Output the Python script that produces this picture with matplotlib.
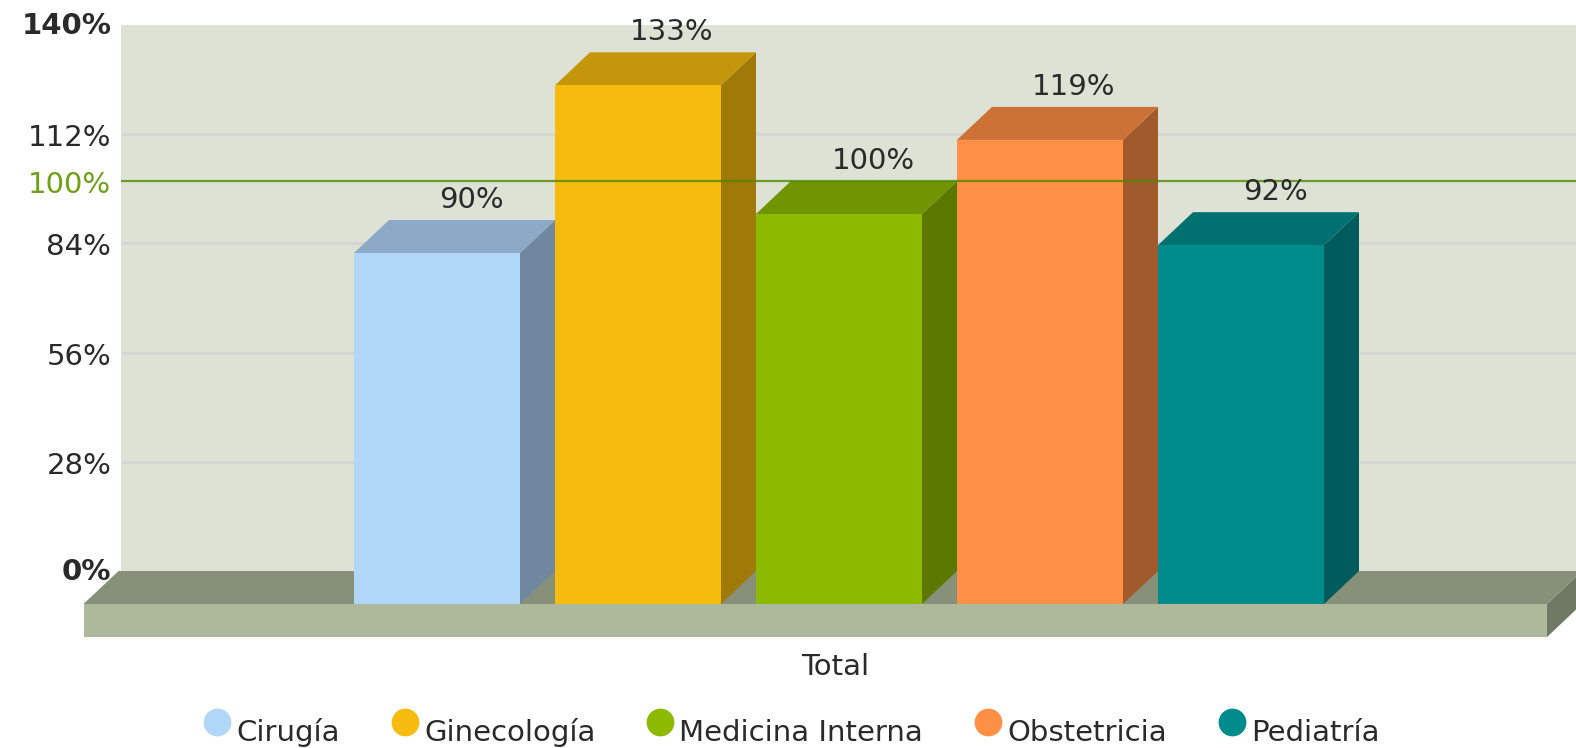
import matplotlib
matplotlib.use("Agg")
import matplotlib.pyplot as plt
from matplotlib.lines import Line2D
from matplotlib.patches import Polygon
from matplotlib.transforms import ScaledTranslation

categories = ["Cirugía", "Ginecología", "Medicina Interna", "Obstetricia", "Pediatría"]
values = [90, 133, 100, 119, 92]
labels = ["90%", "133%", "100%", "119%", "92%"]
front_colors = ["#b0d7f7", "#f5bc0f", "#8cba00", "#ff8f45", "#008c8c"]
top_colors = ["#8caac6", "#c4960c", "#709500", "#cc7236", "#007070"]
side_colors = ["#6f88a0", "#9f7a08", "#5b7800", "#a05a2b", "#005c5c"]
group_label = "Total"
grid_ticks = [28, 56, 84, 112]
y_ticks = [0, 28, 56, 84, 100, 112, 140]
y_tick_labels = ["0%", "28%", "56%", "84%", "100%", "112%", "140%"]
target = 100

W, H = 1576, 748
WALL_L, WALL_T, WALL_B = 121, 25, 571
FIRST_C = 437.0
fig = plt.figure(figsize=(W / 100, H / 100), dpi=100, facecolor="white")
ax = fig.add_axes([WALL_L / W, 1 - WALL_B / H, (W - WALL_L) / W, (WALL_B - WALL_T) / H])
ax.set_facecolor("#dde2d5")
ax.set_ylim(0, 140)
UNIT = 201
ax.set_xlim((WALL_L - FIRST_C) / UNIT, (W - FIRST_C) / UNIT)
for s in ax.spines.values():
    s.set_visible(False)

FONT = 21
TXT = "#2a2a2a"
WIDTH = 166 / UNIT
DX = 35 / UNIT
PX_Y = (WALL_B - WALL_T) / 140
DY = 33 / PX_Y


def face(pts, color, z):
    ax.add_patch(Polygon(pts, closed=True, facecolor=color, edgecolor="none",
                         clip_on=False, zorder=z))


def box(x0, x1, y0, y1, c_front, c_top, c_side, z):
    face([(x0, y0 - DY), (x1, y0 - DY), (x1, y1 - DY), (x0, y1 - DY)], c_front, z + 0.2)
    face([(x0, y1 - DY), (x1, y1 - DY), (x1 + DX, y1), (x0 + DX, y1)], c_top, z + 0.1)
    face([(x1, y0 - DY), (x1 + DX, y0), (x1 + DX, y1), (x1, y1 - DY)], c_side, z)


# grid and floor
ax.hlines(grid_ticks, *ax.get_xlim(), color="#d3d6d2", lw=2.2, zorder=1)
floor_x0 = (83.5 - FIRST_C) / UNIT
floor_x1 = (1547 - FIRST_C) / UNIT
box(floor_x0, floor_x1, -33 / PX_Y, 0, "#adb99a", "#87917a", "#6f7963", 3)

# bars
for i, (v, lab) in enumerate(zip(values, labels)):
    box(i - WIDTH / 2, i + WIDTH / 2, 0, v, front_colors[i], top_colors[i], side_colors[i], 4 + i)
    ax.annotate(lab, xy=(i + DX, v), xytext=(-0.7, 14.6), textcoords="offset points",
                ha="center", va="center", fontsize=FONT, color=TXT, zorder=20,
                annotation_clip=False)

# target line runs over the bars, faintly
ax.axhline(target, color="#4f8a00", lw=1.6, alpha=0.8, zorder=15)

# axes text
ax.set_yticks(y_ticks)
ax.set_yticklabels(y_tick_labels, fontsize=FONT, color=TXT)
ax.tick_params(axis="y", length=0, pad=7)
for t, v in zip(ax.get_yticklabels(), y_ticks):
    dy_px = -1.0
    if v in (0, 140):
        t.set_fontweight("bold")
        dy_px = 1.5
    t.set_transform(t.get_transform() + ScaledTranslation(0, dy_px / 100, fig.dpi_scale_trans))
    if v == target:
        t.set_color("#6fa01a")
ax.set_xticks([1.98])
ax.set_xticklabels([group_label], fontsize=FONT, color=TXT)
ax.tick_params(axis="x", length=0, pad=59)

# legend
handles = [Line2D([], [], linestyle="none", marker="o", markersize=20,
                  markerfacecolor=c, markeredgecolor="none") for c in front_colors]
leg = fig.legend(handles, categories, loc="lower center", ncol=5, frameon=False,
                 bbox_to_anchor=(791 / W, 0.0), fontsize=FONT, labelcolor=TXT,
                 handlelength=1.0, handletextpad=0.15, columnspacing=1.73,
                 borderpad=0.0, borderaxespad=0.32)
for t in leg.get_texts():
    t.set_position((0, -8))

fig.savefig("out.png", dpi=100, facecolor="white")
